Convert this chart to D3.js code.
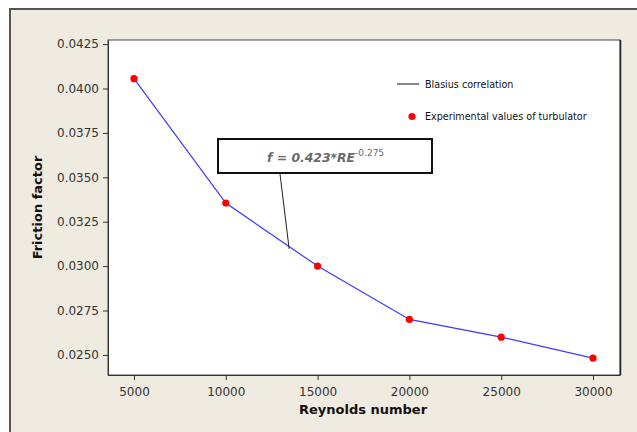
<!DOCTYPE html>
<html>
<head>
<meta charset="utf-8">
<script src="https://cdn.jsdelivr.net/npm/d3@7"></script>
<style>
  body { margin: 0; background: #fff; }
  text { font-family: "DejaVu Sans", sans-serif; }
</style>
</head>
<body>
<div id="chart"></div>
<script>
    // data
    reynolds = [5000, 10000, 15000, 20000, 25000, 30000]
    friction = [0.04055, 0.03355, 0.03000, 0.02700, 0.02600, 0.02482]
    xTicks = [5000, 10000, 15000, 20000, 25000, 30000]
    yTicks = [0.0250, 0.0275, 0.0300, 0.0325, 0.0350, 0.0375, 0.0400, 0.0425]

    canvas = ({width: 637, height: 432})
    plot = ({left: 108, top: 40, right: 620, bottom: 375})
    beige = "#efebe1"
    blue = "#3a3aff"
    red = "#ff0000"

    var svg = d3.select("#chart").append("svg")
        .attr("width", canvas.width)
        .attr("height", canvas.height)

    // outer frame
    svg.append("rect")
        .attr("x", 10).attr("y", 9)
        .attr("width", canvas.width).attr("height", canvas.height)
        .attr("fill", beige)
        .attr("stroke", "#555")
        .attr("stroke-width", 2)

    x = d3.scaleLinear()
        .domain([3584, 31470])
        .range([plot.left, plot.right])

    y = d3.scaleLinear()
        .domain([0.02387, 0.04273])
        .range([plot.bottom, plot.top])

    // plot area
    svg.append("rect")
        .attr("x", plot.left).attr("y", plot.top)
        .attr("width", plot.right - plot.left)
        .attr("height", plot.bottom - plot.top)
        .attr("fill", "#fff")
        .attr("stroke", "#444")
        .attr("stroke-width", 1)
    svg.append("line")
        .attr("x1", plot.right + 0.5).attr("x2", plot.right + 0.5)
        .attr("y1", plot.top).attr("y2", plot.bottom)
        .attr("stroke", "#222").attr("stroke-width", 1.5)

    xAxis = g => g
        .attr("transform", `translate(0,${plot.bottom})`)
        .call(d3.axisBottom(x).tickValues(xTicks).tickFormat(d3.format("d")).tickSize(5).tickSizeOuter(0))

    yAxis = g => g
        .attr("transform", `translate(${plot.left},0)`)
        .call(d3.axisLeft(y).tickValues(yTicks).tickFormat(d3.format(".4f")).tickSize(5).tickSizeOuter(0))

    gx = svg.append("g").call(xAxis)
    gy = svg.append("g").call(yAxis)
    svg.selectAll(".tick text")
        .attr("fill", "#333")
        .style("font-size", "12px")
        .style("font-family", "DejaVu Sans, sans-serif")
    svg.selectAll(".domain, .tick line").attr("stroke", "#333")
    gx.selectAll(".tick text").attr("dy", "1.05em")
    gy.selectAll(".tick text").attr("dx", "-1px")

    // axis titles
    svg.append("text")
        .attr("x", (plot.left + plot.right) / 2 - 1)
        .attr("y", 414)
        .attr("text-anchor", "middle")
        .style("font-size", "13px")
        .style("font-weight", "bold")
        .attr("fill", "#111")
        .text("Reynolds number")

    svg.append("text")
        .attr("transform", `translate(42,${(plot.top + plot.bottom) / 2}) rotate(-90)`)
        .attr("text-anchor", "middle")
        .style("font-size", "13px")
        .style("font-weight", "bold")
        .attr("fill", "#111")
        .text("Friction factor")

    // series
    data = d3.zip(reynolds, friction)

    line = d3.line()
        .x(d => x(d[0]))
        .y(d => y(d[1]))

    svg.append("path")
        .attr("fill", "none")
        .attr("stroke", blue)
        .attr("stroke-width", 1.2)
        .attr("d", line(data))

    svg.selectAll("circle.pt")
        .data(data)
        .join("circle")
        .attr("class", "pt")
        .attr("cx", d => x(d[0]))
        .attr("cy", d => y(d[1]))
        .attr("r", 3.6)
        .attr("fill", red)

    // annotation with leader line
    svg.append("line")
        .attr("x1", 280).attr("y1", 174)
        .attr("x2", x(13450)).attr("y2", y(0.03097))
        .attr("stroke", "#222").attr("stroke-width", 1)

    svg.append("rect")
        .attr("x", 218).attr("y", 139)
        .attr("width", 214).attr("height", 34)
        .attr("fill", "#fff")
        .attr("stroke", "#111")
        .attr("stroke-width", 2)

    ann = svg.append("text")
        .attr("x", 267).attr("y", 162)
        .attr("fill", "#6a6a6a")
        .style("font-size", "12.4px")
        .style("font-weight", "bold")
        .style("font-style", "italic")
    ann.append("tspan").text("f = 0.423*RE")
    ann.append("tspan")
        .attr("dy", -6)
        .style("font-size", "9px")
        .style("font-weight", "normal")
        .style("font-style", "normal")
        .text("-0.275")

    // legend
    legend = svg.append("g").style("font-size", "9.6px")
    legend.append("line")
        .attr("x1", 397).attr("x2", 419)
        .attr("y1", 84).attr("y2", 84)
        .attr("stroke", "#111").attr("stroke-width", 1)
    legend.append("text")
        .attr("x", 425).attr("y", 87.5)
        .attr("fill", "#111")
        .text("Blasius correlation")
    legend.append("circle")
        .attr("cx", 412).attr("cy", 116.5)
        .attr("r", 3.6)
        .attr("fill", red)
    legend.append("text")
        .attr("x", 425).attr("y", 119.5)
        .attr("fill", "#111")
        .text("Experimental values of turbulator")
</script>
</body>
</html>
